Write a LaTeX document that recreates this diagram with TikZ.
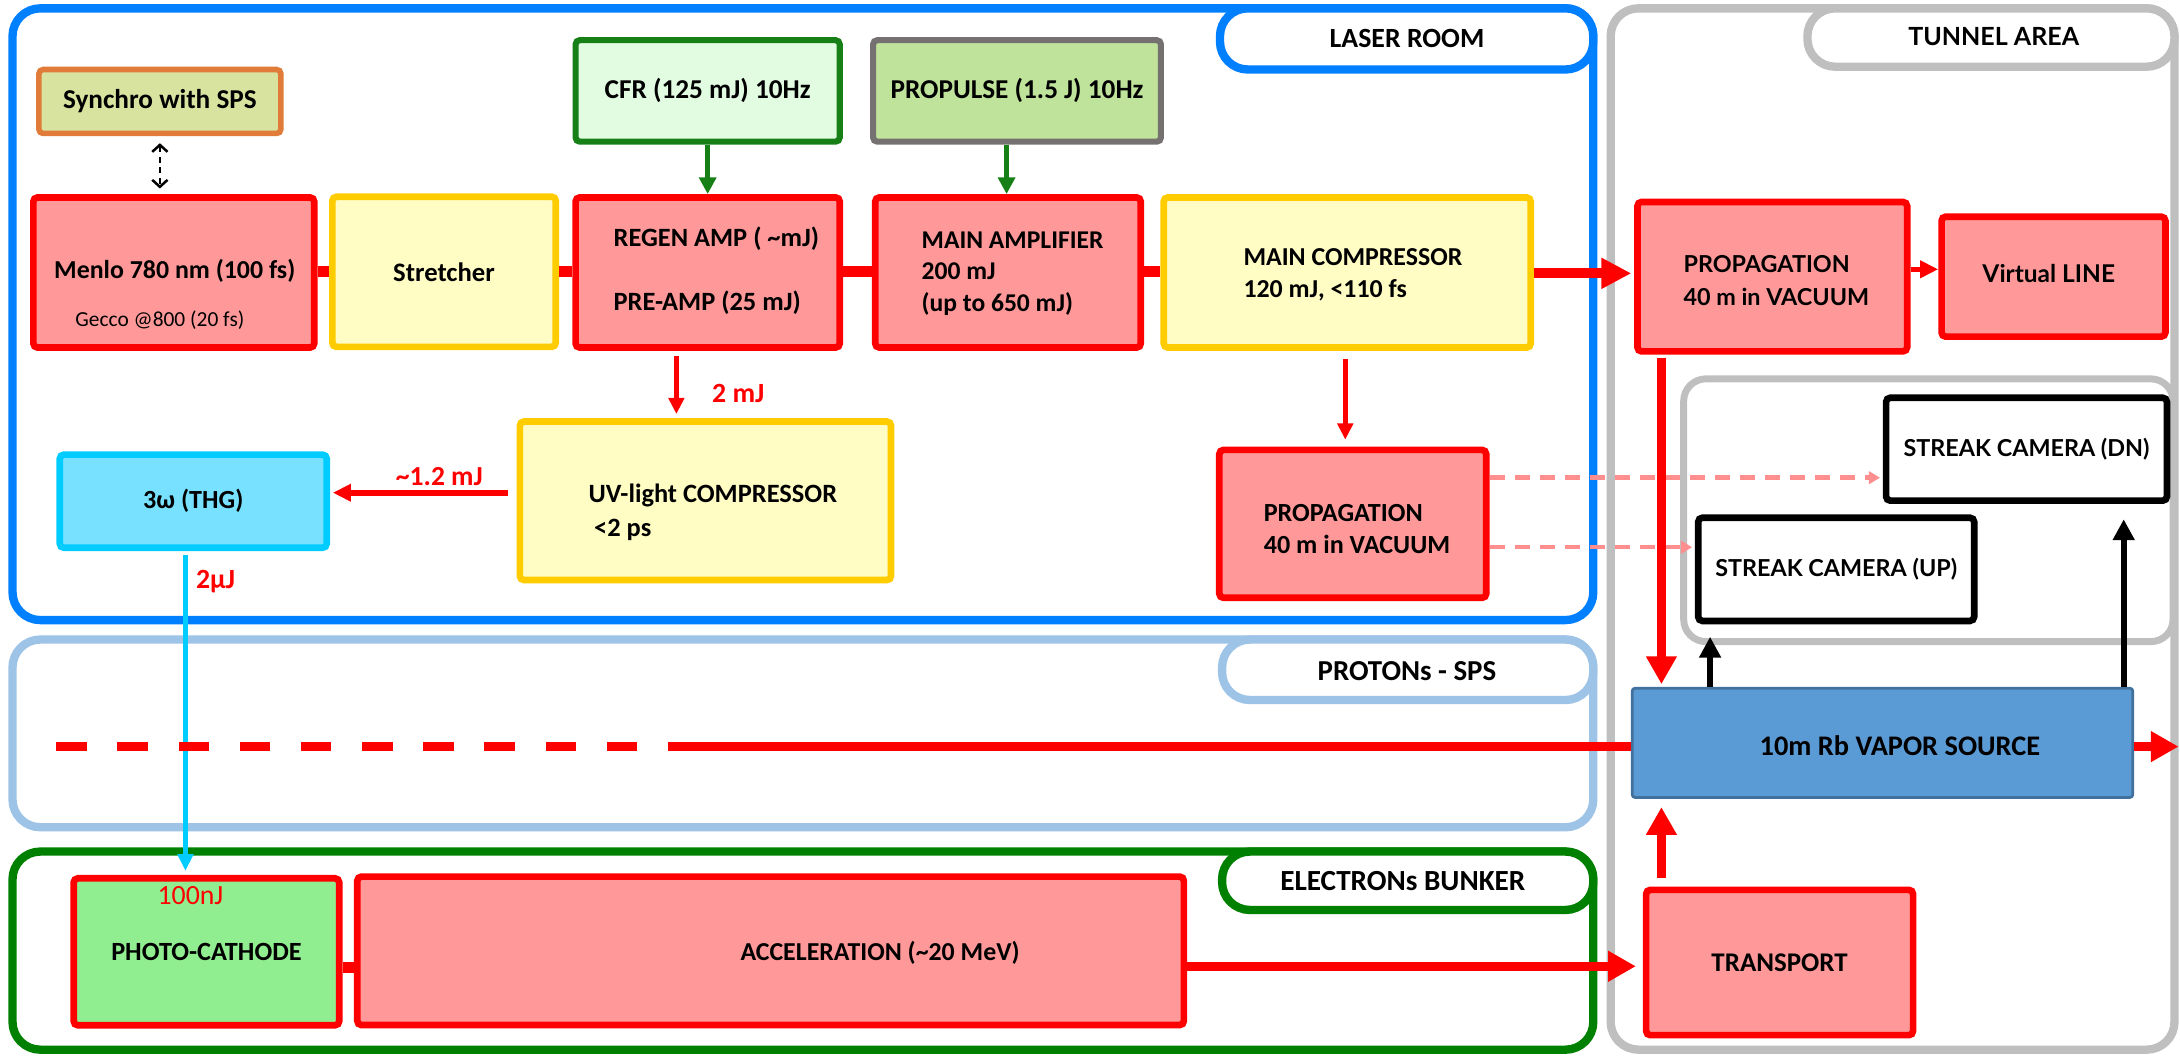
\documentclass[tikz,border=0pt]{standalone}
\usepackage{fontspec}
\setmainfont{Carlito}
\newfontfamily\latof{Lato}
\usetikzlibrary{arrows.meta}
\definecolor{cBlue}{HTML}{0080FF}
\definecolor{cLBlue}{HTML}{9DC3E6}
\definecolor{cGreenC}{HTML}{008000}
\definecolor{cGray}{HTML}{BFBFBF}
\definecolor{cRed}{HTML}{FF0000}
\definecolor{cPink}{HTML}{FF9999}
\definecolor{cYel}{HTML}{FFCC00}
\definecolor{cYelF}{HTML}{FFFCC4}
\definecolor{cSyncF}{HTML}{D9E3A0}
\definecolor{cSyncD}{HTML}{E07B39}
\definecolor{cCFRF}{HTML}{E2FCE2}
\definecolor{cCFRD}{HTML}{168016}
\definecolor{cPropF}{HTML}{BFE39A}
\definecolor{cPropD}{HTML}{767171}
\definecolor{cTHGF}{HTML}{77E1FF}
\definecolor{cTHGD}{HTML}{00CCFF}
\definecolor{cRbF}{HTML}{5B9BD5}
\definecolor{cRbD}{HTML}{41719C}
\definecolor{cPhoto}{HTML}{90EE90}
\definecolor{cDash}{HTML}{FF8F8F}
\newcommand{\fs}[2]{\fontsize{#1}{#2}\selectfont}
\tikzset{
  wh/.style 2 args={minimum width=#1*0.5pt, minimum height=#2*0.5pt},
  bx/.style={rectangle, draw, rounded corners=1.5pt, line width=2.4pt, inner sep=0pt,
    font=\bfseries\fs{9.5}{11}, align=center},
  redbox/.style={bx, draw=cRed, fill=cPink},
  yelbox/.style={bx, draw=cYel, fill=cYelF},
  camb/.style={bx, draw=black, fill=white, font=\latof\bfseries\fs{8.4}{10}},
  cont/.style={rectangle, draw, line width=3pt, rounded corners=10pt, inner sep=0pt},
  pill/.style={rectangle, draw, fill=white, line width=3pt, rounded corners=10pt, inner sep=0pt},
  ptxt/.style={inner sep=0pt},
  txt/.style={inner sep=0pt, align=left, anchor=west},
  lbl/.style={inner sep=0pt, text=cRed, font=\bfseries\fs{10}{12}},
  bigbeam/.style={draw=cRed, line width=3.6pt, -{Triangle[length=10.8pt,width=10.5pt]}},
  midbeam/.style={draw=cRed, line width=3.2pt, -{Triangle[length=10pt,width=10.5pt]}},
  redthin/.style={draw=cRed, line width=1.6pt, -{Triangle[length=5.8pt,width=5.5pt]}},
  redmed/.style={draw=cRed, line width=2pt, -{Triangle[length=6.5pt,width=6pt]}},
  grnarr/.style={draw=cCFRD, line width=1.6pt, -{Triangle[length=6pt,width=6pt]}},
  blkarr/.style={draw=black, line width=2pt, -{Triangle[length=7.5pt,width=7.5pt]}},
  dasharr/.style={draw=cDash, line width=1.6pt, dash pattern=on 5.5pt off 3.5pt, -{Triangle[length=4pt,width=4.5pt]}},
}
\begin{document}
\begin{tikzpicture}[x=0.5pt,y=-0.5pt]
\useasboundingbox (0,0) rectangle (1568,759);
% containers
\node[cont, draw=cBlue, wh={1137}{440}] (laser) at (577.5,226) {};
\node[cont, draw=cLBlue, wh={1137}{135}] (protons) at (577.5,527.5) {};
\node[cont, draw=cGreenC, wh={1137}{142.5}] (electrons) at (577.5,683.75) {};
\node[cont, draw=cGray, wh={405.5}{749}] (tunnel) at (1361.25,380.5) {};
\node[cont, draw=cGray, line width=2.5pt, rounded corners=8pt, wh={352}{189}] (inner) at (1387,367) {};
% pills
\node[pill, draw=cBlue, wh={268.5}{44}] (lrp) at (1011.75,28) {};
\node[ptxt, font=\bfseries\fs{10}{12}] (lrt) at (1012,28) {LASER ROOM};
\node[pill, draw=cGray, wh={264}{42}] (tap) at (1432,27) {};
\node[ptxt, font=\latof\bfseries\fs{9}{11}] (tat) at (1434,26.5) {TUNNEL AREA};
\node[pill, draw=cLBlue, wh={267}{43.5}] (psp) at (1012.5,481.75) {};
\node[ptxt, font=\bfseries\fs{10.4}{12}] (pst) at (1012,483) {PROTONs - SPS};
\node[pill, draw=cGreenC, wh={267}{42}] (ebp) at (1012.5,633.5) {};
\node[ptxt, font=\bfseries\fs{10.5}{12}] (ebt) at (1009,633.5) {ELECTRONs BUNKER};
% laser room boxes
\node[bx, draw=cSyncD, fill=cSyncF, line width=2pt, wh={174}{46}, font=\bfseries\fs{9.8}{11}] (sync) at (115,73) {Synchro with SPS};
\node[bx, draw=cCFRD, fill=cCFRF, line width=2.2pt, wh={190}{73}, font=\bfseries\fs{9.8}{11}] (cfr) at (509,65.4) {CFR (125 mJ) 10Hz};
\node[bx, draw=cPropD, fill=cPropF, line width=2.2pt, wh={207}{73}, font=\bfseries\fs{9.8}{11}] (propulse) at (731.5,65.4) {PROPULSE (1.5 J) 10Hz};
\node[redbox, wh={202}{108}] (menlo) at (125,196) {};
\node[ptxt, font=\bfseries\fs{9.3}{11}] (menlot) at (125.7,194.5) {Menlo 780 nm (100 fs)};
\node[ptxt, font=\fs{7.7}{9}] (gecco) at (115,230) {Gecco @800 (20 fs)};
\node[yelbox, wh={160.7}{108}, font=\bfseries\fs{9.6}{11}] (stretch) at (319.4,195.5) {Stretcher};
\node[redbox, wh={190}{108}] (regen) at (509,196) {};
\node[txt, font=\bfseries\fs{9.5}{11}] (regent) at (441,195) {REGEN AMP ( \textasciitilde mJ)\\[12pt]PRE-AMP (25 mJ)};
\node[redbox, wh={191}{108}] (mainamp) at (725,196) {};
\node[txt, font=\bfseries\fs{9.2}{11.4}] (mainampt) at (662.5,196.7) {MAIN AMPLIFIER\\200 mJ\\(up to 650 mJ)};
\node[yelbox, wh={264}{108}] (maincomp) at (969,196) {};
\node[txt, font=\bfseries\fs{9.3}{11.5}] (maincompt) at (894,197.5) {MAIN COMPRESSOR\\120 mJ, <110 fs};
\node[yelbox, wh={267}{114}] (uv) at (507.4,360.2) {};
\node[txt, font=\bfseries\fs{9.5}{12.5}] (uvt) at (423,368.5) {UV-light COMPRESSOR\\\hspace*{2pt}<2 ps};
\node[bx, draw=cTHGD, fill=cTHGF, wh={192}{67}, font=\bfseries\fs{9.4}{11}] (thg) at (139,360.5) {3ω (THG)};
\node[redbox, wh={192}{106.4}] (propL) at (973,376.8) {};
\node[txt, font=\bfseries\fs{9.4}{11.6}] (propLt) at (908.6,380.4) {PROPAGATION\\40 m in VACUUM};
% tunnel boxes
\node[redbox, wh={194}{107.5}] (propT) at (1274.75,199) {};
\node[txt, font=\latof\bfseries\fs{8.4}{11.7}] (propTt) at (1210.5,201.7) {PROPAGATION\\40 m in VACUUM};
\node[redbox, wh={161}{86.3}] (virt) at (1477,199) {};
\node[ptxt, font=\latof\bfseries\fs{8.8}{10}] (virtt) at (1473.6,197) {Virtual LINE};
\node[camb, wh={202}{74}] (sdn) at (1457.6,323.1) {STREAK CAMERA (DN)};
\node[camb, wh={198.5}{74.2}] (sup) at (1320.7,409.5) {STREAK CAMERA (UP)};
\node[bx, draw=cRbD, fill=cRbF, line width=1pt, rounded corners=1pt, wh={360}{78.5}] (rb) at (1354,534.3) {};
\node[ptxt, font=\bfseries\fs{10.2}{12}] (rbt) at (1366.6,536) {10m Rb VAPOR SOURCE};
\node[redbox, wh={192}{104.5}, font=\bfseries\fs{9.7}{11}] (transport) at (1280,692.3) {TRANSPORT};
% electrons boxes
\node[bx, draw=cRed, fill=cPhoto, wh={191}{105.7}, font=\bfseries\fs{9.45}{11}] (photo) at (148.5,684.6) {PHOTO-CATHODE};
\node[redbox, wh={594.5}{106.8}] (accel) at (554.25,683.9) {};
\node[ptxt, font=\bfseries\fs{9.3}{11}] (accelt) at (633,685.7) {ACCELERATION (\textasciitilde 20 MeV)};
% connectors: main chain
\draw[draw=cRed, line width=3.8pt] (menlo.east |- 0,195.4) -- (stretch.west |- 0,195.4);
\draw[draw=cRed, line width=3.8pt] (stretch.east |- 0,195.4) -- (regen.west |- 0,195.4);
\draw[draw=cRed, line width=3.8pt] (regen.east |- 0,195.4) -- (mainamp.west |- 0,195.4);
\draw[draw=cRed, line width=3.8pt] (mainamp.east |- 0,195.4) -- (maincomp.west |- 0,195.4);
\draw[bigbeam, shorten >=1pt] (maincomp.east |- 0,196.6) -- (propT.west |- 0,196.6);
\draw[redmed] (propT.east |- 0,193.7) -- (virt.west |- 0,193.7);
% sync
\draw[draw=black, line width=0.9pt, dash pattern=on 2.2pt off 1.6pt,
  {Straight Barb[length=2.5pt,width=5.5pt]}-{Straight Barb[length=2.5pt,width=5.5pt]},
  shorten <=2.5pt, shorten >=2pt] (sync.south) -- (sync.south |- menlo.north);
\draw[grnarr] (cfr.south) -- (cfr.south |- regen.north);
\draw[grnarr] (724,0 |- propulse.south) -- (724,0 |- mainamp.north);
% down to UV
\draw[redthin, shorten <=2pt, shorten >=1.5pt] (486.5,0 |- regen.south) -- (486.5,0 |- uv.north);
\node[lbl] (l2mj) at (531,283) {2 mJ};
\draw[redmed, shorten <=3pt, shorten >=1pt] (uv.west |- 0,354.4) -- (thg.east |- 0,354.4);
\node[lbl, font=\bfseries\fs{9.9}{12}] (l12) at (316,343) {\textasciitilde 1.2 mJ};
\draw[draw=cTHGD, line width=1.6pt, -{Triangle[length=6pt,width=5.5pt]}, shorten <=1.5pt, shorten >=1.5pt] (133.4,0 |- thg.south) -- (133.4,0 |- photo.north);
\node[lbl] (l2uj) at (155,418) {2µJ};
\node[lbl, font=\fs{10}{12}] (l100) at (137,644) {100nJ};
\draw[redthin, shorten <=3pt, shorten >=2.5pt] (967.6,0 |- maincomp.south) -- (967.6,0 |- propL.north);
% dashed to cameras
\draw[dasharr, shorten >=1pt] (propL.east |- 0,343.6) -- (sdn.west |- 0,343.6);
\draw[dasharr, shorten >=1pt] (propL.east |- 0,393.6) -- (sup.west |- 0,393.6);
% tunnel
\draw[midbeam, shorten <=1pt, shorten >=1pt] (1195,0 |- propT.south) -- (1195,0 |- rb.north);
\draw[blkarr, shorten >=4.5pt] (1230,0 |- rb.north) -- (1230,0 |- sup.south);
\draw[blkarr, shorten >=5.5pt] (1527.5,0 |- rb.north) -- (1527.5,0 |- sdn.south);
\draw[midbeam, shorten <=3pt, shorten >=3pt] (1195,0 |- transport.north) -- (1195,0 |- rb.south);
% protons beam
\coordinate (pstart) at (40.4,537);
\coordinate (pmid) at (502.4,537);
\coordinate (pend) at (1567,537);
\draw[draw=cRed, line width=3.5pt, dash pattern=on 11pt off 11pt] (pstart) -- (pmid);
\draw[draw=cRed, line width=3.5pt] (pmid) -- (rb.west |- pmid);
\draw[midbeam] (rb.east |- pend) -- (pend);
% electrons
\draw[draw=cRed, line width=3.8pt] (photo.east |- 0,696) -- (accel.west |- 0,696);
\draw[midbeam, shorten >=2.5pt] (accel.east |- 0,695) -- (transport.west |- 0,695);
\end{tikzpicture}
\end{document}
